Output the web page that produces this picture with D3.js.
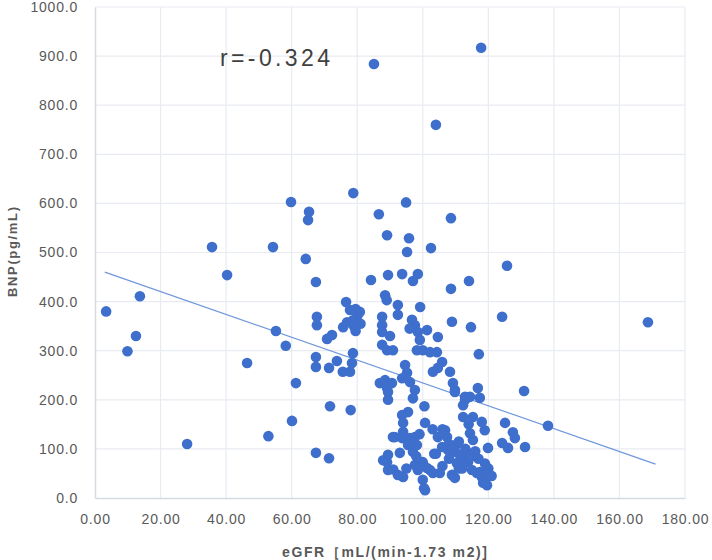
<!DOCTYPE html>
<html>
<head>
<meta charset="utf-8">
<script src="https://cdn.jsdelivr.net/npm/d3@7"></script>
<style>
  body { margin: 0; background: #fff; }
  text { font-family: "Liberation Sans", Arial, sans-serif; }
</style>
</head>
<body>
<div id="chart"></div>
<script>
// eGFR values (x) and BNP values (y)
const egfr = [
  3.4, 9.9, 12.5, 13.7, 28.1, 35.7, 40.3, 46.4, 52.9, 54.3, 55.2, 58.2, 59.8, 60.1, 61.3,
  64.3, 65.0, 65.3, 67.4, 67.7, 67.7, 67.4, 67.4, 67.4, 70.8, 72.3, 71.4, 71.7, 71.4, 73.8,
  75.6, 76.6, 78.0, 78.8, 85.1, 117.8, 104.0, 94.9, 86.6, 108.6, 89.1, 95.8, 95.2, 102.5, 125.7,
  124.2, 168.7, 138.2, 130.9, 131.2, 114.7, 108.9,
  77.8, 80.8, 76.9, 78.7, 75.7, 78.7, 78.4, 77.8, 79.5, 80.0, 79.5, 81.0, 79.0,
  84.2, 89.4, 93.7, 98.5, 97.0, 88.5, 89.0, 114.1, 108.6, 99.2, 92.4, 92.4, 87.6, 87.6, 87.6,
  87.6, 89.1, 90.9, 96.7, 97.6, 98.5, 99.1, 101.3, 104.6, 98.2, 100.0, 102.2, 104.3, 105.9, 104.6,
  103.1, 108.3, 117.1, 88.5, 90.6, 89.1, 86.9, 94.6, 95.2, 93.7, 96.1, 97.6, 97.0, 109.2, 109.8,
  116.8, 112.9, 114.4, 89.4, 89.4, 100.5, 93.7, 95.5, 94.0, 100.7, 91.5, 93.7, 96.1, 97.6, 98.2,
  95.5, 93.0, 97.0, 89.4, 89.1, 89.4, 92.4, 94.0, 97.6, 98.5, 100.0, 100.0, 100.7, 109.8, 112.9,
  117.4, 112.3, 112.3, 115.3, 118.0, 118.9, 125.1, 127.5, 128.1, 124.2, 126.0, 119.9, 106.8, 104.6, 107.4,
  114.4, 115.3, 105.9, 107.7, 109.8, 111.3, 113.5, 112.3, 113.8, 110.4, 101.3, 103.1, 105.2, 108.9, 109.8,
  115.0, 117.4, 118.0, 118.9, 119.6, 100.4, 87.9, 90.9, 99.1, 102.2, 116.5, 118.4, 116.0, 120.0,
  110.5, 114.0, 108.0, 103.5, 106.0, 111.0,
  103.0, 108.0, 111.0, 113.0, 116.0, 117.0, 119.0, 120.0, 121.0, 98.0, 95.0, 91.0, 112.0, 106.0, 104.0,
  99.0, 94.0, 96.0, 90.0
];
const bnp = [
  380, 299, 330, 411, 110, 511, 454, 275, 126, 511, 340, 310, 603, 157, 234,
  487, 566, 583, 440, 369, 352, 287, 267, 92, 324, 332, 265, 187, 81, 279,
  257, 399, 179, 621, 884, 917, 760, 602, 578, 570, 535, 529, 501, 509, 473,
  369, 358, 147, 218, 104, 348, 359,
  383, 379, 358, 362, 348, 295, 275, 257, 340, 370, 385, 355, 350,
  444, 454, 456, 456, 442, 413, 403, 442, 426, 389, 393, 373, 369, 352, 338,
  312, 301, 301, 363, 352, 338, 322, 342, 328, 301, 301, 297, 297, 277, 265,
  257, 257, 293, 240, 234, 224, 234, 271, 255, 244, 236, 220, 203, 234, 220,
  224, 206, 206, 216, 200, 187, 169, 175, 153, 153, 124, 122, 122, 124, 108,
  108, 92, 94, 88, 73, 57, 47, 43, 67, 57, 73, 37, 16, 216, 200,
  204, 189, 165, 165, 155, 138, 153, 134, 122, 112, 102, 102, 138, 124, 124,
  132, 118, 104, 98, 94, 88, 92, 77, 73, 71, 61, 51, 51, 47, 41,
  57, 53, 43, 37, 26, 20, 77, 124, 73, 57, 51, 31, 85, 60,
  110, 150, 80, 90, 140, 60,
  140, 110, 115, 100, 95, 80, 70, 50, 45, 85, 60, 58, 60, 65, 90,
  130, 135, 345, 330
];
// linear trendline endpoints as drawn in the picture
const trendX = [3, 171];
const trendY = [460, 69];

const xTicks = d3.range(0, 181, 20);
const yTicks = d3.range(0, 1001, 100);
const rLabel = "r=-0.324";
const xTitle = "eGFR［mL/(min-1.73 m2)]";
const yTitle = "BNP(pg/mL)";

const width = 712, height = 560;

const svg = d3.select("#chart")
  .append("svg")
  .attr("width", width)
  .attr("height", height);

const x = d3.scaleLinear().domain([0, 180]).range([95, 685]);
const y = d3.scaleLinear().domain([0, 1000]).range([498, 7]);

// grid
svg.append("g")
  .selectAll("line")
  .data(xTicks.slice(1))
  .enter()
  .append("line")
  .attr("x1", d => x(d)).attr("x2", d => x(d))
  .attr("y1", y(1000)).attr("y2", y(0))
  .attr("stroke", "#e8ebf1")
  .attr("stroke-width", 1.2);

svg.append("g")
  .selectAll("line")
  .data(yTicks.slice(1))
  .enter()
  .append("line")
  .attr("x1", x(0)).attr("x2", x(180))
  .attr("y1", d => y(d)).attr("y2", d => y(d))
  .attr("stroke", "#e8ebf1")
  .attr("stroke-width", 1.2);

// axes
const xAxis = svg.append("g")
  .attr("transform", `translate(0,${y(0)})`)
  .call(d3.axisBottom(x).tickValues(xTicks).tickSize(0).tickPadding(16).tickFormat(d3.format(".2f")));
const yAxis = svg.append("g")
  .attr("transform", `translate(${x(0)},0)`)
  .call(d3.axisLeft(y).tickValues(yTicks).tickSize(0).tickPadding(17).tickFormat(d3.format(".1f")));

[xAxis, yAxis].forEach(a => {
  a.select(".domain").attr("stroke", "#d6dae3").attr("stroke-width", 1.5);
  a.selectAll("text")
    .attr("fill", "#595959")
    .style("font-size", "14px")
    .style("letter-spacing", "0.8px");
});

// trendline
svg.append("line")
  .attr("x1", x(trendX[0])).attr("y1", y(trendY[0]))
  .attr("x2", x(trendX[1])).attr("y2", y(trendY[1]))
  .attr("stroke", "#6f97dc")
  .attr("stroke-width", 1.2);

// points
svg.append("g")
  .selectAll("circle")
  .data(egfr.map((d, i) => [d, bnp[i]]))
  .enter()
  .append("circle")
  .attr("cx", d => x(d[0]))
  .attr("cy", d => y(d[1]))
  .attr("r", 5.3)
  .attr("fill", "#3f6fcc");

// labels
svg.append("text")
  .attr("x", 220).attr("y", 66)
  .attr("fill", "#404040")
  .attr("textLength", 110)
  .attr("lengthAdjust", "spacing")
  .style("font-size", "23px")
  .text(rLabel);

svg.append("text")
  .attr("x", 282).attr("y", 557)
  .attr("fill", "#595959")
  .attr("textLength", 205)
  .attr("lengthAdjust", "spacing")
  .style("font-size", "14px")
  .style("font-weight", "bold")
  .text(xTitle);

svg.append("text")
  .attr("transform", "translate(17,297) rotate(-90)")
  .attr("fill", "#595959")
  .attr("textLength", 90)
  .attr("lengthAdjust", "spacing")
  .style("font-size", "13px")
  .style("font-weight", "bold")
  .text(yTitle);
</script>
</body>
</html>
